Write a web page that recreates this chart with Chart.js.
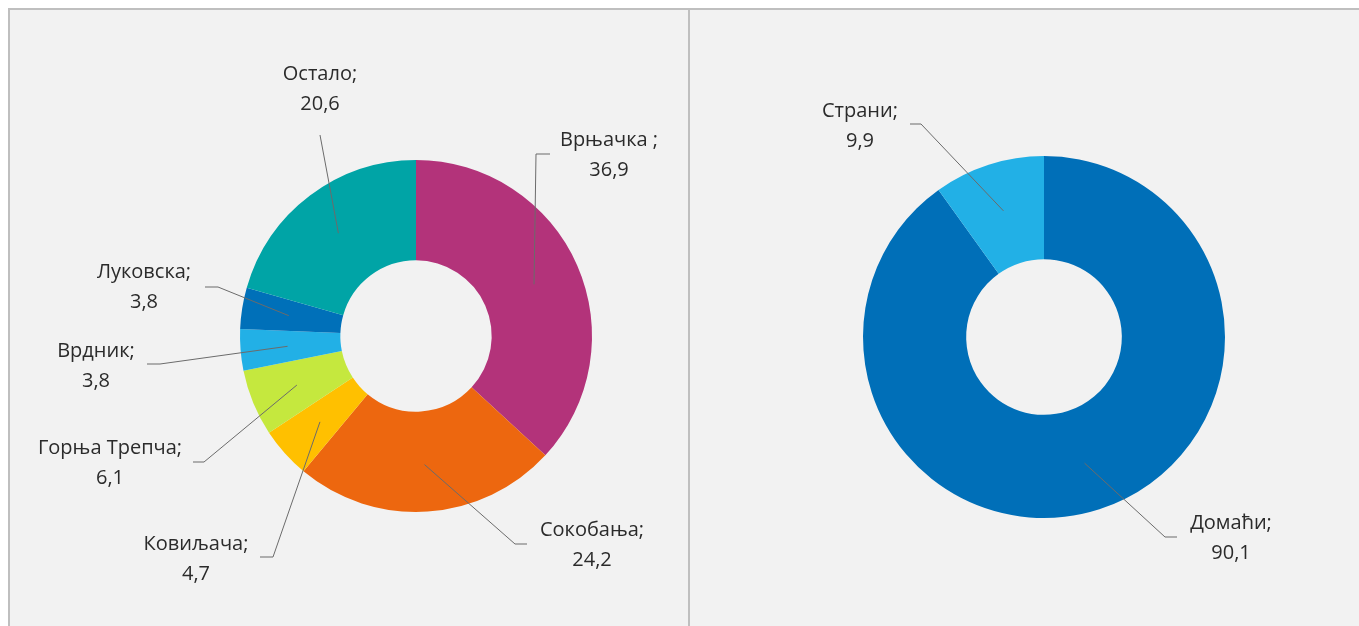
<!DOCTYPE html>
<html>
<head>
<meta charset="utf-8">
<script src="https://cdn.jsdelivr.net/npm/chart.js@4.4.0/dist/chart.umd.min.js"></script>
<style>
  body { margin: 0; background: #fff; width: 1359px; height: 626px; overflow: hidden; }
  #frame {
    position: absolute; left: 8px; top: 8px; width: 1360px; height: 630px;
    background: #f2f2f2; border-top: 2px solid #bfbfbf; border-left: 2px solid #bfbfbf;
  }
  #divider { position: absolute; left: 688px; top: 10px; width: 2px; height: 620px; background: #bfbfbf; }
  .box { position: absolute; top: 10px; height: 616px; }
  #boxL { left: 10px; width: 678px; }
  #boxR { left: 690px; width: 669px; }
</style>
</head>
<body>
<div id="frame"></div>
<div id="divider"></div>
<div class="box" id="boxL"><canvas id="chartL"></canvas></div>
<div class="box" id="boxR"><canvas id="chartR"></canvas></div>
<script>
/* подаци - бање */
var spaNames = ["Врњачка ;", "Сокобања;", "Ковиљача;", "Горња Трепча;", "Врдник;", "Луковска;", "Остало;"];
var spaValues = [36.9, 24.2, 4.7, 6.1, 3.8, 3.8, 20.6];
var spaColors = ["#b3337a", "#ed670f", "#ffc000", "#c5e83e", "#22b0e6", "#0070b9", "#00a4a6"];

/* подаци - домаћи / страни */
var guestNames = ["Домаћи;", "Страни;"];
var guestValues = [90.1, 9.9];
var guestColors = ["#006fb8", "#22b0e6"];

/* положај натписа у односу на центар круга: текст, прелом линије, крај линије */
var spaLabelPos = [
    { tx: 193, ty: -181, ex: 120, ey: -182, hx: 134 },
    { tx: 176, ty: 209, ex: 99, ey: 208, hx: 111 },
    { tx: -220, ty: 223, ex: -143, ey: 221, hx: -156 },
    { tx: -306, ty: 127, ex: -212, ey: 126, hx: -223 },
    { tx: -320, ty: 30, ex: -256, ey: 28, hx: -269 },
    { tx: -272, ty: -49, ex: -198, ey: -49, hx: -211 },
    { tx: -96, ty: -247, ex: -96, ey: -201, hx: -96 }
];
var guestLabelPos = [
    { tx: 187, ty: 201, ex: 121, ey: 200, hx: 133 },
    { tx: -184, ty: -211, ex: -123, ey: -213, hx: -134 }
];

function fmt(v) {
    return v.toFixed(1).replace(".", ",");
}

var leaderLabels = {
    id: 'leaderLabels',
    afterDatasetsDraw: function(chart, args, opts) {
        var ctx = chart.ctx;
        var meta = chart.getDatasetMeta(0);
        var names = chart.data.labels;
        var values = chart.data.datasets[0].data;
        ctx.save();
        meta.data.forEach(function(arc, i) {
            var p = opts.pos[i];
            var cx = arc.x, cy = arc.y;
            var mid = (arc.startAngle + arc.endAngle) / 2;
            var r = arc.innerRadius + (arc.outerRadius - arc.innerRadius) * 0.53;
            var ax = cx + Math.cos(mid) * r;
            var ay = cy + Math.sin(mid) * r;

            ctx.strokeStyle = "#6b6b6b";
            ctx.lineWidth = 1;
            ctx.beginPath();
            ctx.moveTo(ax, ay);
            ctx.lineTo(cx + p.ex, cy + p.ey);
            ctx.lineTo(cx + p.hx, cy + p.ey);
            ctx.stroke();

            ctx.fillStyle = "#2b2b2b";
            ctx.font = "20px 'Open Sans'";
            ctx.textAlign = "center";
            ctx.textBaseline = "middle";
            ctx.fillText(names[i], cx + p.tx, cy + p.ty - 15);
            ctx.fillText(fmt(values[i]), cx + p.tx, cy + p.ty + 15);
        });
        ctx.restore();
    }
};

function makeChart(id, names, values, colors, pos, pad) {
    var ctx = document.getElementById(id).getContext("2d");
    return new Chart(ctx, {
        type: 'doughnut',
        data: {
            labels: names,
            datasets: [{
                data: values,
                backgroundColor: colors,
                borderWidth: 0
            }]
        },
        options: {
            responsive: true,
            maintainAspectRatio: false,
            animation: false,
            cutout: '43%',
            layout: { padding: pad },
            plugins: {
                legend: { display: false },
                tooltip: { enabled: false },
                leaderLabels: { pos: pos }
            }
        },
        plugins: [leaderLabels]
    });
}

makeChart("chartL", spaNames, spaValues, spaColors, spaLabelPos,
    { left: 230, right: 96, top: 150, bottom: 114 });
makeChart("chartR", guestNames, guestValues, guestColors, guestLabelPos,
    { left: 173, right: 134, top: 146, bottom: 108 });
</script>
</body>
</html>
